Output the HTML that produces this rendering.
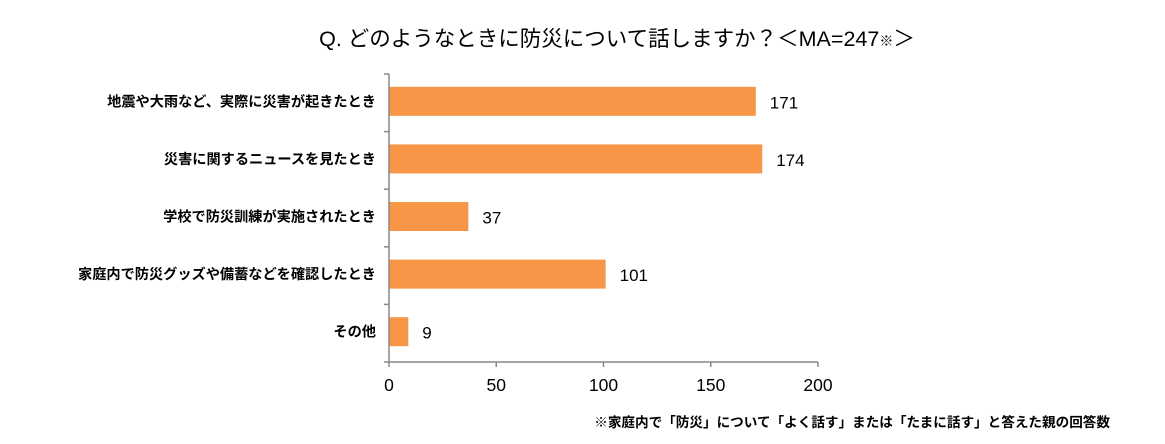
<!DOCTYPE html>
<html><head><meta charset="utf-8"><style>
body{margin:0;background:#fff;width:1165px;height:439px;overflow:hidden;font-family:"Liberation Sans","Noto Sans CJK JP",sans-serif;}
</style></head><body>
<svg width="1165" height="439" xmlns="http://www.w3.org/2000/svg" font-family="Liberation Sans, Noto Sans CJK JP, sans-serif">
<text x="617" y="46" text-anchor="middle" font-size="21.5" fill="#000">Q. どのようなときに防災について話しますか？＜MA=247<tspan font-size="14">※</tspan>＞</text>
<g id="plot"></g>
<text x="1110" y="427" text-anchor="end" font-size="13.6" font-weight="bold" fill="#000">※家庭内で「防災」について「よく話す」または「たまに話す」と答えた親の回答数</text>
</svg>
<script>
const categories=["地震や大雨など、実際に災害が起きたとき","災害に関するニュースを見たとき","学校で防災訓練が実施されたとき","家庭内で防災グッズや備蓄などを確認したとき","その他"];
const values=[171,174,37,101,9];
const ticks=[0,50,100,150,200];
const X0=389,X1=818,MAX=200,TOP=74,BOT=362;
const xs=v=>X0+(v/MAX)*(X1-X0);
const band=(BOT-TOP)/categories.length;
const g=document.getElementById('plot');
const NS="http://www.w3.org/2000/svg";
function mk(t,a){const e=document.createElementNS(NS,t);for(const k in a)e.setAttribute(k,a[k]);g.appendChild(e);return e;}
categories.forEach((c,i)=>{
 const cy=TOP+band*i+band/2-1.5;
 const r=mk('rect',{x:X0,y:cy-14.5,width:xs(values[i])-X0,height:29,fill:'#F79646'});
 
 
 const l=mk('text',{x:376,y:cy+5,'text-anchor':'end','font-size':14.2,'font-weight':'bold',fill:'#000'});l.textContent=c;
 
 
 const v=mk('text',{x:xs(values[i])+14,y:cy+7,'font-size':17,fill:'#000'});v.textContent=values[i];
 
 
});
for(let i=0;i<=categories.length;i++){
 const y=TOP+band*i;
 const t=mk('line',{x1:X0-5,x2:X0,y1:y,y2:y,stroke:'#888','stroke-width':1.5});
 
 
}
const ya=mk('line',{x1:X0,x2:X0,y1:TOP,y2:BOT,stroke:'#888','stroke-width':1.5});


const xa=mk('line',{x1:X0,x2:X1,y1:BOT,y2:BOT,stroke:'#888','stroke-width':1.5});


ticks.forEach(t=>{
 const m=mk('line',{x1:xs(t),x2:xs(t),y1:BOT,y2:BOT+5,stroke:'#888','stroke-width':1.5});
 
 
 const l=mk('text',{x:xs(t),y:BOT+29,'text-anchor':'middle','font-size':17.5,fill:'#000'});l.textContent=t;
 
 
});
</script>
</body></html>
